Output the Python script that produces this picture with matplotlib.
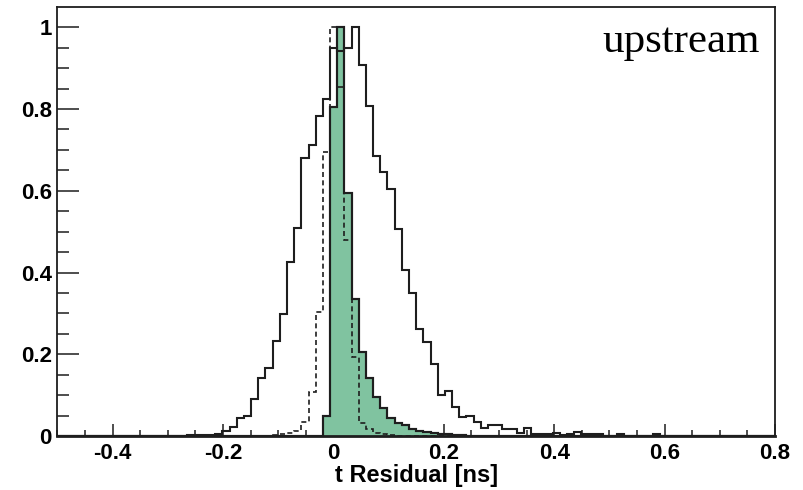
import numpy as np
import matplotlib
matplotlib.use("Agg")
import matplotlib.pyplot as plt
from matplotlib.ticker import MultipleLocator

# histogram binning: 100 bins between -0.5 and 0.8 ns
x_min, x_max, n_bins = -0.5, 0.8, 100

# broad solid histogram, bins 18..83
solid_first = 18
solid_vals = [0.002, 0.003, 0.003, 0.003, 0.004, 0.012, 0.022, 0.045, 0.049, 0.091,
              0.143, 0.166, 0.233, 0.298, 0.425, 0.51, 0.680, 0.711, 0.782, 0.825,
              0.949, 0.941, 0.949, 1.0, 0.908, 0.808, 0.685, 0.647, 0.605, 0.507,
              0.405, 0.349, 0.263, 0.229, 0.177, 0.100, 0.109, 0.071, 0.046, 0.050,
              0.035, 0.019, 0.027, 0.027, 0.016, 0.016, 0.008, 0.019, 0.005, 0.004,
              0.004, 0.008, 0.002, 0.004, 0.010, 0.005, 0.005, 0.004, 0.001, 0.001,
              0.004, 0.0, 0.0, 0.0, 0.0, 0.004]

# narrow dashed histogram, bins 29..47
dashed_first = 29
dashed_vals = [0.001, 0.002, 0.004, 0.008, 0.012, 0.035, 0.108, 0.304, 0.696, 1.0,
               0.853, 0.48, 0.194, 0.031, 0.016, 0.007, 0.004, 0.002, 0.001]

# green filled histogram, bins 37..56
green_first = 37
green_vals = [0.049, 0.806, 1.0, 0.594, 0.335, 0.206, 0.141, 0.095, 0.068, 0.045,
              0.033, 0.027, 0.017, 0.012, 0.009, 0.007, 0.006, 0.004, 0.003, 0.002]

x_ticks = [-0.4, -0.2, 0, 0.2, 0.4, 0.6, 0.8]
x_ticklabels = ["-0.4", "-0.2", "0", "0.2", "0.4", "0.6", "0.8"]
y_ticks = [0, 0.2, 0.4, 0.6, 0.8, 1.0]
y_ticklabels = ["0", "0.2", "0.4", "0.6", "0.8", "1"]


def full_hist(first, vals):
	h = np.zeros(n_bins)
	h[first:first + len(vals)] = vals
	return h


edges = np.linspace(x_min, x_max, n_bins + 1)
solid = full_hist(solid_first, solid_vals)
dashed = full_hist(dashed_first, dashed_vals)
green = full_hist(green_first, green_vals)

plt.rcParams['font.family'] = ['Liberation Sans', 'DejaVu Sans']

fig = plt.figure(figsize=(8.04, 4.9), dpi=100)
ax = fig.add_axes([0.0713, 0.1102, 0.8927, 0.8749])

line_col = "#1e1e1e"
ax.stairs(green, edges, fill=True, facecolor="#80c3a0", edgecolor=line_col,
          linewidth=1.5, zorder=2)
ax.stairs(green, edges, color=line_col, linewidth=1.5, zorder=3)
ax.stairs(solid, edges, color=line_col, linewidth=1.5, zorder=4)
ax.stairs(dashed, edges, color=line_col, linewidth=1.2, linestyle=(0, (3, 2)), zorder=5)

ax.set_xlim(x_min, x_max)
ax.set_ylim(0, 1.049)

ax.set_xticks(x_ticks)
ax.set_xticklabels(x_ticklabels, fontsize=16, fontweight="bold")
ax.set_yticks(y_ticks)
ax.set_yticklabels(y_ticklabels, fontsize=16, fontweight="bold")
ax.xaxis.set_minor_locator(MultipleLocator(0.05))
ax.yaxis.set_minor_locator(MultipleLocator(0.05))
ax.tick_params(axis="x", which="major", direction="in", length=9, width=1.1, pad=5, color=line_col)
ax.tick_params(axis="x", which="minor", direction="in", length=4.5, width=1.1, color=line_col)
ax.tick_params(axis="y", which="major", direction="in", length=16, width=1.1, pad=4, color=line_col)
ax.tick_params(axis="y", which="minor", direction="in", length=8.5, width=1.1, color=line_col)
ax.tick_params(top=False, right=False, which="both")

for s in ax.spines.values():
	s.set_linewidth(1.3)
	s.set_color(line_col)
ax.spines["bottom"].set_linewidth(2.0)

ax.set_xlabel("t Residual [ns]", fontsize=17, fontweight="bold", labelpad=0)

fig.text(0.945, 0.894, "upstream", ha="right", va="baseline", fontsize=31,
         family=["Liberation Serif", "DejaVu Serif"])

fig.savefig("out.png", dpi=100)
